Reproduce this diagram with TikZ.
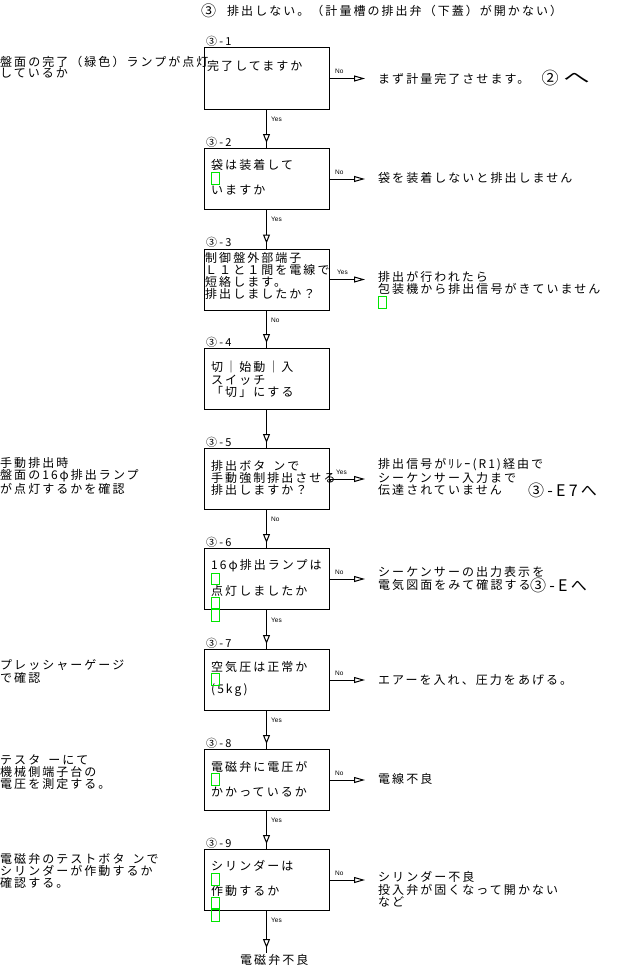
\documentclass[tikz,border=0pt]{standalone}
\usepackage{fontspec}
\setmainfont{Liberation Sans}
\newfontfamily\jp[LetterSpace=17]{Noto Sans CJK JP}
\newfontfamily\jpn{Noto Sans CJK JP}
\newfontfamily\jpw[LetterSpace=20]{Noto Sans CJK JP}
\usetikzlibrary{arrows.meta,decorations.markings}
\definecolor{tofu}{RGB}{0,230,0}
\newcommand{\gapsp}{\kern8pt}
\begin{document}
\begin{tikzpicture}[x=1pt,y=-1pt,
  boxnode/.style={draw,line width=1pt,minimum width=125pt,minimum height=61pt,inner sep=0pt},
  txt/.style={anchor=west,inner sep=0pt,align=left,font={\jp\fontsize{12}{#1}\selectfont}},
  txt/.default=12,
  lbl/.style={anchor=west,inner sep=0pt,font={\jpw\fontsize{11}{11}\selectfont}},
  yn/.style={anchor=west,inner sep=0pt,font={\fontsize{6.5}{6.5}\selectfont}},
  bigc/.style={inner sep=0pt,font={\jpn\fontsize{#1}{#1}\selectfont}},
  bigt/.style={anchor=west,inner sep=0pt,font={\jpw\fontsize{16}{16}\selectfont}},
  tofubox/.style={draw=tofu,line width=1pt},
  hline/.style={line width=1pt,-{Triangle[length=11pt,width=6pt,fill=white]}},
  vline/.style={line width=1pt,postaction={decorate},
    decoration={markings,mark=at position -5pt with {\arrow{Triangle[length=9pt,width=7pt,fill=white]}}}}
]
\fill[white] (0,0) rectangle (640,966);
\useasboundingbox (0,0) rectangle (640,966);

% title
\node[bigc=15] (tc) at (208.5,11) {③};
\node[txt] (title) at (227,11) {排出しない。（計量槽の排出弁（下蓋）が開かない）};

% boxes
\node[boxnode] (b1) at (266.5,78.5) {};
\node[boxnode] (b2) at (266.5,179) {};
\node[boxnode] (b3) at (266.5,279.5) {};
\node[boxnode] (b4) at (266.5,379) {};
\node[boxnode] (b5) at (266.5,479) {};
\node[boxnode] (b6) at (266.5,579) {};
\node[boxnode] (b7) at (266.5,680) {};
\node[boxnode] (b8) at (266.5,780) {};
\node[boxnode] (b9) at (266.5,880) {};

% box labels
\node[lbl] (l1) at (206,41.5) {③-1};
\node[lbl] (l2) at (206,142.5) {③-2};
\node[lbl] (l3) at (206,242.5) {③-3};
\node[lbl] (l4) at (206,342.5) {③-4};
\node[lbl] (l5) at (206,442.5) {③-5};
\node[lbl] (l6) at (206,542.5) {③-6};
\node[lbl] (l7) at (206,643.5) {③-7};
\node[lbl] (l8) at (206,743.5) {③-8};
\node[lbl] (l9) at (206,843.5) {③-9};

% box texts
\node[txt] (t1) at (207,66) {完了してますか};
\node[txt] (t2) at (211,177.5) {袋は装着して\\[13pt]いますか};
\node[txt] (t3) at (205,276) {制御盤外部端子\\Ｌ１と１間を電線で\\短絡します。\\排出しましたか？};
\node[txt=12.5] (t4) at (211,379.5) {切｜始動｜入\\スイッチ\\「切」にする};
\node[txt] (t5) at (211,478) {排出ボタ\gapsp ンで\\手動強制排出させる\\排出しますか？};
\node[txt] (t6) at (211,578) {16φ排出ランプは\\[12pt]点灯しましたか};
\node[txt] (t7) at (211,678.5) {空気圧は正常か\\[10pt](5kg)};
\node[txt] (t8) at (211,779) {電磁弁に電圧が\\[12.5pt]かかっているか};
\node[txt] (t9) at (211,878.5) {シリンダーは\\[13pt]作動するか};

% left notes
\node[txt=10.5] (L1) at (0,67) {盤面の完了（緑色）ランプが点灯\\しているか};
\node[txt] (L5) at (0,476) {手動排出時\\盤面の16φ排出ランプ\\が点灯するかを確認};
\node[txt=11] (L7) at (0,671.5) {プレッシャーゲージ\\で確認};
\node[txt=10.5] (L8) at (0,772.5) {テスタ\gapsp ーにて\\機械側端子台の\\電圧を測定する。};
\node[txt] (L9) at (0,871) {電磁弁のテストボタ\gapsp ンで\\シリンダーが作動するか\\確認する。};

% right results
\node[txt] (r1) at (378,78.5) {まず計量完了させます。};
\node[bigc=17] (r1c) at (550,78) {②};
\node[anchor=west,inner sep=0pt,font={\jpn\fontsize{16}{16}\selectfont},transform shape,xscale=1.65] (r1h) at (563,78) {へ};
\node[txt] (r2) at (378,178) {袋を装着しないと排出しません};
\node[txt] (r3) at (378,283) {排出が行われたら\\包装機から排出信号がきていません};
\node[txt=11] (r5) at (378,477) {排出信号がﾘﾚｰ(R1)経由で\\シーケンサー入力まで\\伝達されていません};
\node[bigt] (r5e) at (528,490) {③-E7へ};
\node[txt=11] (r6) at (378,578.5) {シーケンサーの出力表示を\\電気図面をみて確認する};
\node[bigt] (r6e) at (530,585) {③-Eへ};
\node[txt] (r7) at (378,680) {エアーを入れ、圧力をあげる。};
\node[txt] (r8) at (378,779) {電線不良};
\node[txt=12.5] (r9) at (378,889.5) {シリンダー不良\\投入弁が固くなって開かない\\など};
\node[txt] (bot) at (240,960) {電磁弁不良};

% horizontal connectors
\coordinate (h1) at (365,78.5);
\coordinate (h2) at (365,179);
\coordinate (h3) at (365,279.5);
\coordinate (h5) at (365,479);
\coordinate (h6) at (365,579);
\coordinate (h7) at (365,680);
\coordinate (h8) at (365,780);
\coordinate (h9) at (365,880);
\draw[hline] (b1.east) -- (h1);
\draw[hline] (b2.east) -- (h2);
\draw[hline] (b3.east) -- (h3);
\draw[hline] (b5.east) -- (h5);
\draw[hline] (b6.east) -- (h6);
\draw[hline] (b7.east) -- (h7);
\draw[hline] (b8.east) -- (h8);
\draw[hline] (b9.east) -- (h9);
\node[yn] (n1) at (335,71.5) {No};
\node[yn] (n2) at (335,172) {No};
\node[yn] (n3) at (337,272.5) {Yes};
\node[yn] (n5) at (336,472) {Yes};
\node[yn] (n6) at (335,572) {No};
\node[yn] (n7) at (335,673) {No};
\node[yn] (n8) at (335,773) {No};
\node[yn] (n9) at (335,873) {No};

% vertical connectors
\coordinate (endc) at (266.5,953);
\draw[vline] (b1.south) -- (b2.north);
\draw[vline] (b2.south) -- (b3.north);
\draw[vline] (b3.south) -- (b4.north);
\draw[vline] (b4.south) -- (b5.north);
\draw[vline] (b5.south) -- (b6.north);
\draw[vline] (b6.south) -- (b7.north);
\draw[vline] (b7.south) -- (b8.north);
\draw[vline] (b8.south) -- (b9.north);
\draw[vline] (b9.south) -- (endc);
\node[yn] (v1) at (271,119) {Yes};
\node[yn] (v2) at (271,219) {Yes};
\node[yn] (v3) at (271,320) {No};
\node[yn] (v5) at (271,519) {No};
\node[yn] (v6) at (271,620) {Yes};
\node[yn] (v7) at (271,720) {Yes};
\node[yn] (v8) at (271,820) {Yes};
\node[yn] (v9) at (271,920) {Yes};

% missing-glyph boxes
\draw[tofubox] (211,172) rectangle (219.5,184);
\draw[tofubox] (378.3,296.7) rectangle (386.7,308.3);
\draw[tofubox] (211,573.3) rectangle (219.3,584.3);
\draw[tofubox] (211,597.7) rectangle (219.3,608.3);
\draw[tofubox] (211,609.3) rectangle (219.3,621.7);
\draw[tofubox] (211,673) rectangle (219.3,685);
\draw[tofubox] (211,773) rectangle (219.3,785.7);
\draw[tofubox] (211,873.3) rectangle (219.3,885);
\draw[tofubox] (211,897) rectangle (219.3,908.3);
\draw[tofubox] (211,909.3) rectangle (219.3,921.7);
\end{tikzpicture}
\end{document}
